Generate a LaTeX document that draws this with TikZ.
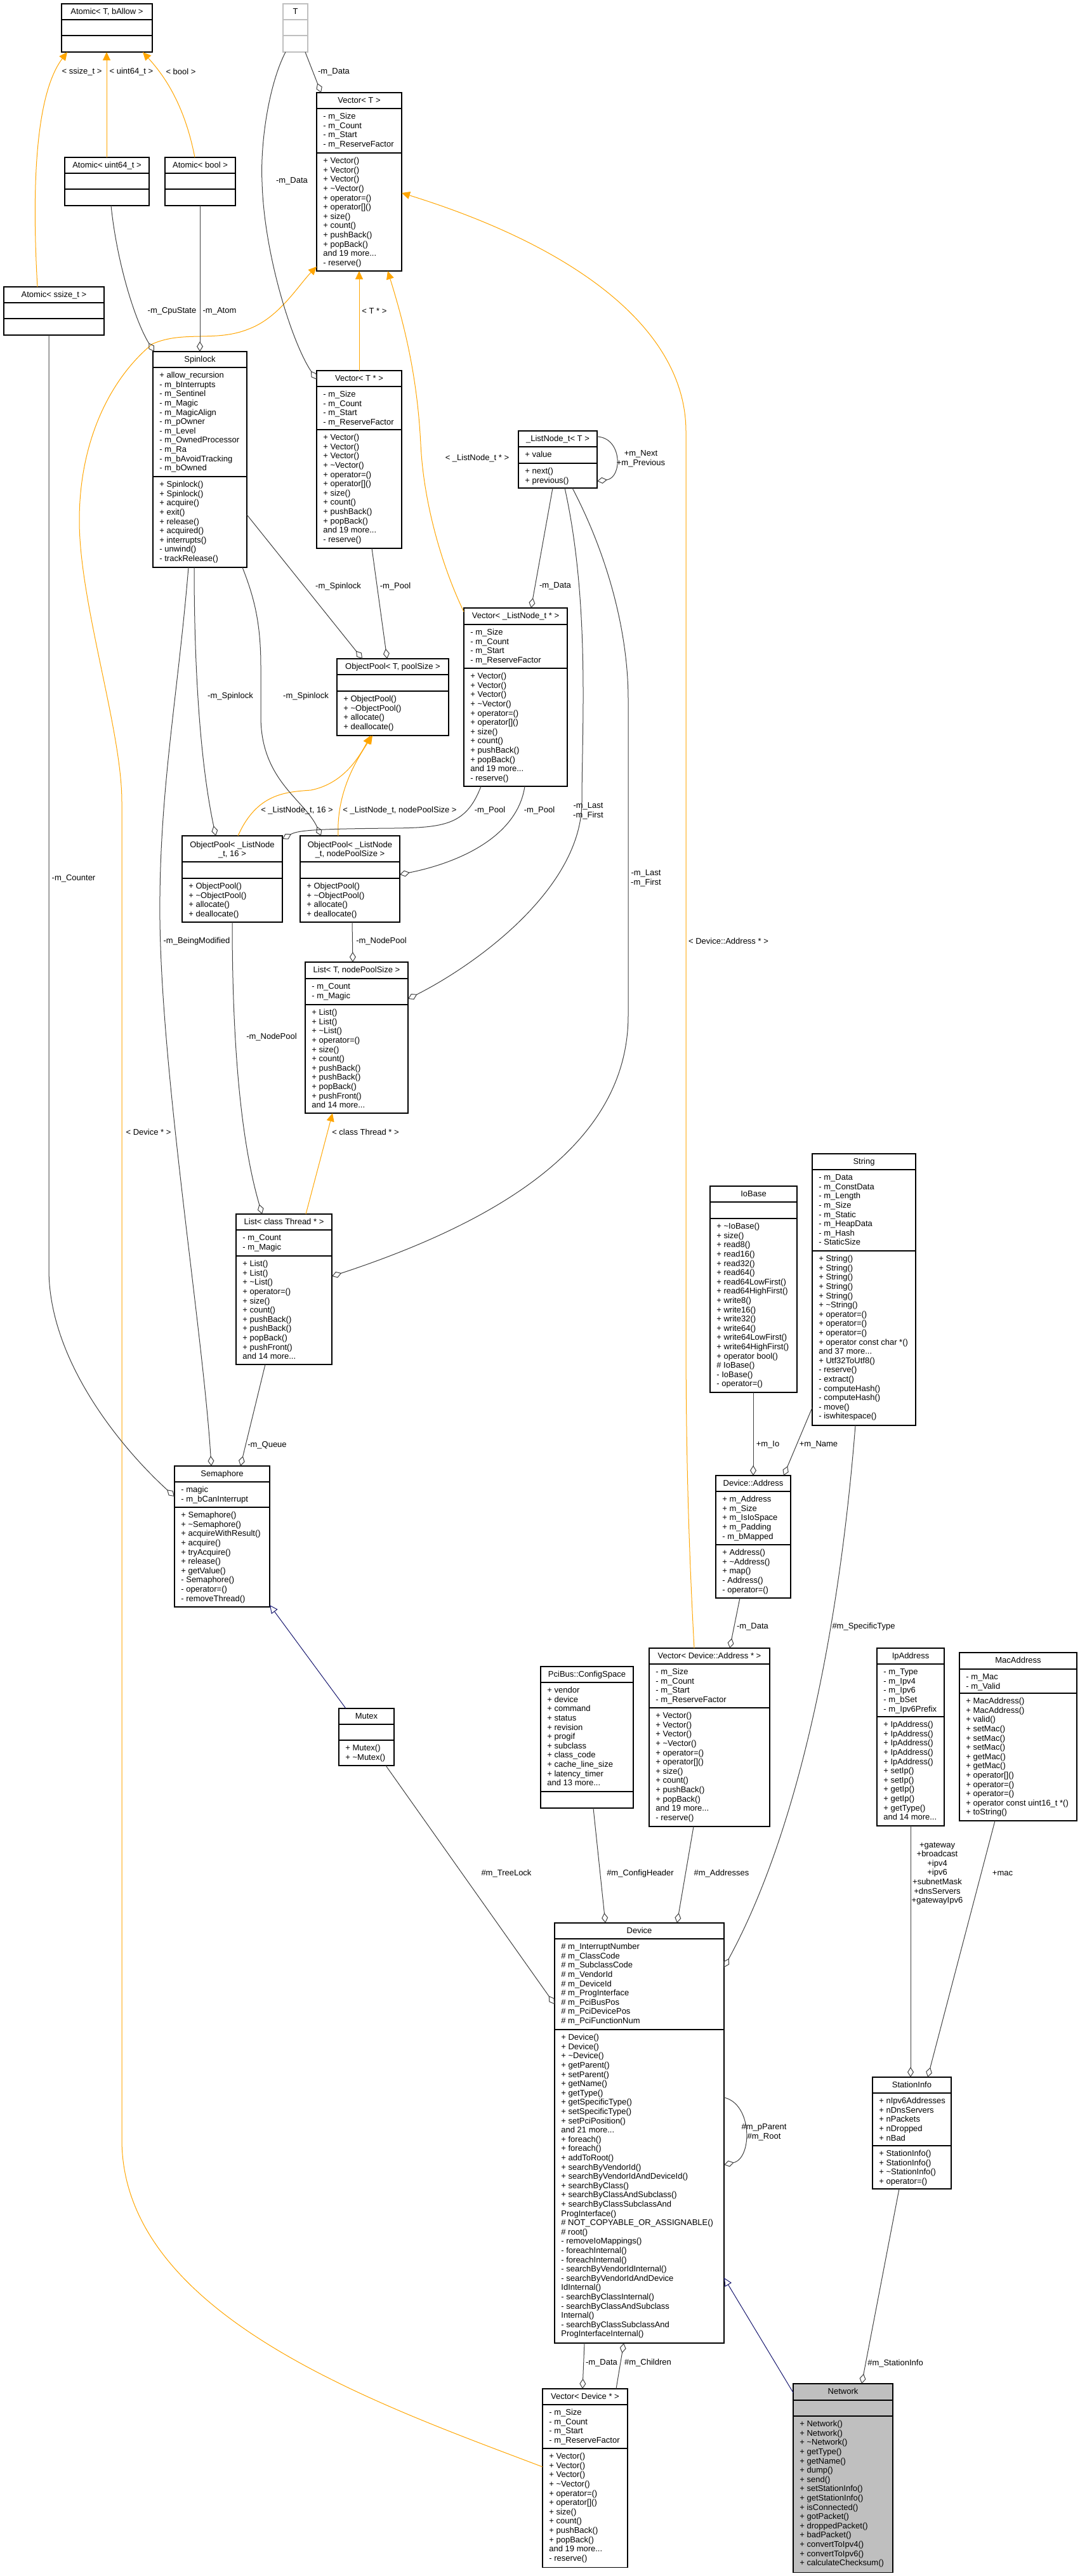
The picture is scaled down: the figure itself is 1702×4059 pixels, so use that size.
\documentclass[tikz,border=0pt]{standalone}
\usepackage{fontspec}
\setmainfont{Liberation Sans}
\usetikzlibrary{arrows.meta,calc}
\definecolor{egray}{HTML}{404040}
\definecolor{eorange}{HTML}{FFA500}
\definecolor{enavy}{HTML}{191970}
\definecolor{ngray}{HTML}{BFBFBF}
\newcommand\dxfont{\fontsize{6.5}{7.3}\selectfont}
\tikzset{
 clsbox/.style={draw=black, line width=0.55pt, inner sep=0pt, outer sep=0pt, fill=white},
 clsline/.style={draw=black, line width=0.55pt},
 ttl/.style={font=\dxfont, inner sep=0pt, align=center},
 mem/.style={font=\dxfont, inner sep=0pt, anchor=north west, align=left},
 lbl/.style={font=\dxfont, inner sep=0pt, align=center},
 agg/.style={draw=egray, line width=0.5pt, -{Diamond[open,length=8pt,width=5pt]}},
 tmpl/.style={draw=eorange, line width=0.5pt, -{Triangle[length=6.5pt,width=6pt,fill=eorange]}},
 inh/.style={draw=enavy, line width=0.5pt, -{Triangle[open,length=6.5pt,width=6pt]}},
}
% [style]{name}{x1}{y1}{x2}{y2}{sep1}{sep2}{title}
\newcommand\dxcls[9][]{%
 \node[clsbox,#1,minimum width={(#5-#3)*0.5pt},minimum height={(#6-#4)*0.5pt}] (#2) at ({(#3+#5)/2},{(#4+#6)/2}) {};
 \draw[clsline,#1] (#3,#7) -- (#5,#7) (#3,#8) -- (#5,#8);
 \node[ttl] (#2-t) at ({(#3+#5)/2},{(#4+#7)/2+1}) {\strut #9};
}
\newcommand\dxmem[4]{\node[mem] (#1) at (#2,#3) {\strut #4};}
\newcommand\vattr{- m\_Size\\- m\_Count\\- m\_Start\\- m\_ReserveFactor}
\newcommand\vmeth{+ Vector()\\+ Vector()\\+ Vector()\\+ \textasciitilde Vector()\\+ operator=()\\+ operator[]()\\+ size()\\+ count()\\+ pushBack()\\+ popBack()\\and 19 more...\\- reserve()}
\newcommand\lmeth{+ List()\\+ List()\\+ \textasciitilde List()\\+ operator=()\\+ size()\\+ count()\\+ pushBack()\\+ pushBack()\\+ popBack()\\+ pushFront()\\and 14 more...}
\newcommand\opmeth{+ ObjectPool()\\+ \textasciitilde ObjectPool()\\+ allocate()\\+ deallocate()}
\begin{document}
\begin{tikzpicture}[x=0.5pt,y=-0.5pt]
\useasboundingbox (0,0) rectangle (1702,4059);
% ---------------- classes
\dxcls{atomT}{97}{6}{240}{82}{31}{56}{Atomic< T, bAllow >}
\dxcls[draw=ngray]{tT}{446}{6}{485}{82}{31}{56}{T}
\dxcls{atomU}{102}{248}{235}{324}{273}{298}{Atomic< uint64\_t >}
\dxcls{atomB}{260}{248}{371}{324}{273}{298}{Atomic< bool >}
\dxcls{atomS}{6}{452}{164}{528}{477}{502}{Atomic< ssize\_t >}
\dxcls{vecT}{499}{146}{633}{427}{171}{241}{Vector< T >}
\dxmem{vecT-a}{509}{177}{\vattr}
\dxmem{vecT-m}{509}{247}{\vmeth}
\dxcls{spin}{241}{554}{389}{894}{579}{751}{Spinlock}
\dxmem{spin-a}{251}{585}{+ allow\_recursion\\- m\_bInterrupts\\- m\_Sentinel\\- m\_Magic\\- m\_MagicAlign\\- m\_pOwner\\- m\_Level\\- m\_OwnedProcessor\\- m\_Ra\\- m\_bAvoidTracking\\- m\_bOwned}
\dxmem{spin-m}{251}{757}{+ Spinlock()\\+ Spinlock()\\+ acquire()\\+ exit()\\+ release()\\+ acquired()\\+ interrupts()\\- unwind()\\- trackRelease()}
\dxcls{vecTp}{499}{584}{633}{864}{609}{677}{Vector< T * >}
\dxmem{vecTp-a}{509}{615}{\vattr}
\dxmem{vecTp-m}{509}{683}{\vmeth}
\dxcls{lnode}{817}{679}{941}{769}{704}{730}{\_ListNode\_t< T >}
\dxmem{lnode-a}{827}{710}{+ value}
\dxmem{lnode-m}{827}{736}{+ next()\\+ previous()}
\dxcls{opT}{531}{1038}{707}{1159}{1063}{1089}{ObjectPool< T, poolSize >}
\dxmem{opT-m}{541}{1095}{\opmeth}
\dxcls{vecLN}{731}{958}{894}{1239}{984}{1053}{Vector< \_ListNode\_t * >}
\dxmem{vecLN-a}{741}{990}{\vattr}
\dxmem{vecLN-m}{741}{1059}{\vmeth}
\dxcls{op16}{287}{1317}{445}{1453}{1358}{1384}{ObjectPool< \_ListNode\\\_t, 16 >}
\dxmem{op16-m}{297}{1390}{\opmeth}
\dxcls{opN}{473}{1317}{630}{1453}{1358}{1384}{ObjectPool< \_ListNode\\\_t, nodePoolSize >}
\dxmem{opN-m}{483}{1390}{\opmeth}
\dxcls{listN}{481}{1516}{643}{1754}{1542}{1583}{List< T, nodePoolSize >}
\dxmem{listN-a}{491}{1548}{- m\_Count\\- m\_Magic}
\dxmem{listN-m}{491}{1589}{\lmeth}
\dxcls{listTh}{372}{1913}{523}{2150}{1938}{1979}{List< class Thread * >}
\dxmem{listTh-a}{382}{1944}{- m\_Count\\- m\_Magic}
\dxmem{listTh-m}{382}{1985}{\lmeth}
\dxcls{sema}{275}{2310}{425}{2532}{2335}{2375}{Semaphore}
\dxmem{sema-a}{285}{2341}{- magic\\- m\_bCanInterrupt}
\dxmem{sema-m}{285}{2381}{+ Semaphore()\\+ \textasciitilde Semaphore()\\+ acquireWithResult()\\+ acquire()\\+ tryAcquire()\\+ release()\\+ getValue()\\- Semaphore()\\- operator=()\\- removeThread()}
\dxcls{mutex}{534}{2692}{621}{2782}{2717}{2742}{Mutex}
\dxmem{mutex-m}{544}{2748}{+ Mutex()\\+ \textasciitilde Mutex()}
\dxcls{iobase}{1119}{1869}{1256}{2194}{1894}{1920}{IoBase}
\dxmem{iobase-m}{1129}{1926}{+ \textasciitilde IoBase()\\+ size()\\+ read8()\\+ read16()\\+ read32()\\+ read64()\\+ read64LowFirst()\\+ read64HighFirst()\\+ write8()\\+ write16()\\+ write32()\\+ write64()\\+ write64LowFirst()\\+ write64HighFirst()\\+ operator bool()\\\# IoBase()\\- IoBase()\\- operator=()}
\dxcls{str}{1280}{1818}{1443}{2246}{1843}{1971}{String}
\dxmem{str-a}{1290}{1849}{- m\_Data\\- m\_ConstData\\- m\_Length\\- m\_Size\\- m\_Static\\- m\_HeapData\\- m\_Hash\\- StaticSize}
\dxmem{str-m}{1290}{1977}{+ String()\\+ String()\\+ String()\\+ String()\\+ String()\\+ \textasciitilde String()\\+ operator=()\\+ operator=()\\+ operator=()\\+ operator const char *()\\and 37 more...\\+ Utf32ToUtf8()\\- reserve()\\- extract()\\- computeHash()\\- computeHash()\\- move()\\- iswhitespace()}
\dxcls{devAddr}{1128}{2325}{1246}{2518}{2350}{2434}{Device::Address}
\dxmem{devAddr-a}{1138}{2356}{+ m\_Address\\+ m\_Size\\+ m\_IsIoSpace\\+ m\_Padding\\- m\_bMapped}
\dxmem{devAddr-m}{1138}{2440}{+ Address()\\+ \textasciitilde Address()\\+ map()\\- Address()\\- operator=()}
\dxcls{vecDA}{1023}{2597}{1213}{2878}{2622}{2691}{Vector< Device::Address * >}
\dxmem{vecDA-a}{1033}{2628}{\vattr}
\dxmem{vecDA-m}{1033}{2697}{\vmeth}
\dxcls{pci}{852}{2626}{998}{2849}{2651}{2823}{PciBus::ConfigSpace}
\dxmem{pci-a}{862}{2657}{+ vendor\\+ device\\+ command\\+ status\\+ revision\\+ progif\\+ subclass\\+ class\_code\\+ cache\_line\_size\\+ latency\_timer\\and 13 more...}
\dxcls{ipAddr}{1382}{2597}{1488}{2877}{2622}{2705}{IpAddress}
\dxmem{ipAddr-a}{1392}{2628}{- m\_Type\\- m\_Ipv4\\- m\_Ipv6\\- m\_bSet\\- m\_Ipv6Prefix}
\dxmem{ipAddr-m}{1392}{2711}{+ IpAddress()\\+ IpAddress()\\+ IpAddress()\\+ IpAddress()\\+ IpAddress()\\+ setIp()\\+ setIp()\\+ getIp()\\+ getIp()\\+ getType()\\and 14 more...}
\dxcls{mac}{1512}{2604}{1697}{2869}{2630}{2668}{MacAddress}
\dxmem{mac-a}{1522}{2636}{- m\_Mac\\- m\_Valid}
\dxmem{mac-m}{1522}{2674}{+ MacAddress()\\+ MacAddress()\\+ valid()\\+ setMac()\\+ setMac()\\+ setMac()\\+ getMac()\\+ getMac()\\+ operator[]()\\+ operator=()\\+ operator=()\\+ operator const uint16\_t *()\\+ toString()}
\dxcls{device}{874}{3030}{1141}{3692}{3055}{3198}{Device}
\dxmem{device-a}{884}{3061}{\# m\_InterruptNumber\\\# m\_ClassCode\\\# m\_SubclassCode\\\# m\_VendorId\\\# m\_DeviceId\\\# m\_ProgInterface\\\# m\_PciBusPos\\\# m\_PciDevicePos\\\# m\_PciFunctionNum}
\dxmem{device-m}{884}{3204}{+ Device()\\+ Device()\\+ \textasciitilde Device()\\+ getParent()\\+ setParent()\\+ getName()\\+ getType()\\+ getSpecificType()\\+ setSpecificType()\\+ setPciPosition()\\and 21 more...\\+ foreach()\\+ foreach()\\+ addToRoot()\\+ searchByVendorId()\\+ searchByVendorIdAndDeviceId()\\+ searchByClass()\\+ searchByClassAndSubclass()\\+ searchByClassSubclassAnd\\ProgInterface()\\\# NOT\_COPYABLE\_OR\_ASSIGNABLE()\\\# root()\\- removeIoMappings()\\- foreachInternal()\\- foreachInternal()\\- searchByVendorIdInternal()\\- searchByVendorIdAndDevice\\IdInternal()\\- searchByClassInternal()\\- searchByClassAndSubclass\\Internal()\\- searchByClassSubclassAnd\\ProgInterfaceInternal()}
\dxcls{station}{1375}{3273}{1499}{3449}{3298}{3381}{StationInfo}
\dxmem{station-a}{1385}{3304}{+ nIpv6Addresses\\+ nDnsServers\\+ nPackets\\+ nDropped\\+ nBad}
\dxmem{station-m}{1385}{3387}{+ StationInfo()\\+ StationInfo()\\+ \textasciitilde StationInfo()\\+ operator=()}
\dxcls{vecD}{855}{3764}{989}{4045}{3789}{3858}{Vector< Device * >}
\dxmem{vecD-a}{865}{3795}{\vattr}
\dxmem{vecD-m}{865}{3864}{\vmeth}
\dxcls[fill=ngray]{network}{1250}{3756}{1407}{4053}{3782}{3807}{Network}
\dxmem{network-m}{1260}{3813}{+ Network()\\+ Network()\\+ \textasciitilde Network()\\+ getType()\\+ getName()\\+ dump()\\+ send()\\+ setStationInfo()\\+ getStationInfo()\\+ isConnected()\\+ gotPacket()\\+ droppedPacket()\\+ badPacket()\\+ convertToIpv4()\\+ convertToIpv6()\\+ calculateChecksum()}
% ---------------- template edges (orange)
\draw[tmpl] ($(atomS.north west)+(53,0)$) .. controls (48,260) and (62,140) .. ($(atomT.south west)+(9,0)$);
\draw[tmpl] ($(atomU.north west)+(66,0)$) -- ($(atomT.south west)+(71,0)$);
\draw[tmpl] ($(atomB.north west)+(47,0)$) .. controls (290,160) and (255,115) .. ($(atomT.south west)+(128,0)$);
\draw[tmpl] ($(vecTp.north west)+(67,0)$) -- ($(vecT.south west)+(67,0)$);
\draw[tmpl] ($(vecLN.north west)+(0,6)$) .. controls (700,900) and (668,800) .. (663,700) .. controls (658,600) and (640,520) .. ($(vecT.south west)+(112,0)$);
\draw[tmpl] ($(vecDA.north west)+(71,0)$) .. controls (1086,2450) and (1081,2300) .. (1081,2100) -- (1081,680) .. controls (1081,520) and (910,390) .. ($(vecT.north east)+(0,158)$);
\draw[tmpl] ($(vecD.north west)+(0,123)$) .. controls (600,3790) and (192,3650) .. (192,3371) -- (192,1263) .. controls (192,1150) and (125,950) .. (125,820) .. controls (125,700) and (170,600) .. (240,542) .. controls (290,520) and (340,540) .. (393,518) .. controls (440,500) and (470,450) .. ($(vecT.south west)+(0,-7)$);
\draw[tmpl] ($(op16.north west)+(88,0)$) .. controls (405,1250) and (450,1248) .. (490,1245) .. controls (540,1235) and (565,1195) .. ($(opT.south west)+(53,0)$);
\draw[tmpl] ($(opN.north west)+(60,0)$) .. controls (530,1250) and (560,1200) .. ($(opT.south west)+(56,0)$);
\draw[tmpl] ($(listTh.north west)+(110,0)$) -- ($(listN.south west)+(43,0)$);
% ---------------- inheritance (blue)
\draw[inh] ($(mutex.north west)+(11,0)$) -- ($(sema.south east)+(0,-3)$);
\draw[inh] ($(network.north west)+(0,14)$) -- ($(device.north east)+(0,559)$);
% ---------------- aggregation edges
\draw[agg] ($(tT.south west)+(35,0)$) -- ($(vecT.north west)+(7,0)$);
\draw[agg] ($(tT.south west)+(4,0)$) .. controls (425,130) and (410,220) .. (413,287) .. controls (416,400) and (460,540) .. ($(vecTp.north west)+(0,14)$);
\draw[agg] ($(atomU.south west)+(73,0)$) .. controls (185,420) and (215,510) .. ($(spin.north west)+(2,0)$);
\draw[agg] ($(atomB.south west)+(55,0)$) -- ($(spin.north west)+(74,0)$);
\draw[agg] ($(lnode.south west)+(54,0)$) -- ($(vecLN.north west)+(106,0)$);
\draw[agg] ($(lnode.south west)+(73,0)$) .. controls (930,950) and (917,1150) .. (917,1263) .. controls (917,1400) and (750,1520) .. ($(listN.north east)+(0,58)$);
\draw[agg] ($(lnode.south west)+(85,0)$) .. controls (960,880) and (990,1000) .. (990,1102) -- (990,1600) .. controls (990,1780) and (830,1910) .. ($(listTh.north east)+(0,98)$);
\draw[agg] ($(lnode.north east)+(0,9)$) .. controls +(40,2) and +(40,-5) .. ($(lnode.north east)+(0,79)$);
\draw[agg] ($(spin.north east)+(0,257)$) -- ($(opT.north west)+(40,0)$);
\draw[agg] ($(vecTp.south west)+(87,0)$) -- ($(opT.north west)+(79,0)$);
\draw[agg] ($(spin.south west)+(65,0)$) .. controls (306,1050) and (315,1200) .. ($(op16.north west)+(53,0)$);
\draw[agg] ($(spin.south west)+(141,0)$) .. controls (400,940) and (411,980) .. (411,1050) -- (411,1129) .. controls (411,1230) and (480,1260) .. ($(opN.north west)+(33,0)$);
\draw[agg] ($(spin.south west)+(56,0)$) .. controls (280,1100) and (250,1250) .. (252,1450) .. controls (255,1700) and (320,2100) .. ($(sema.north west)+(58,0)$);
\draw[agg] ($(atomS.south west)+(71,0)$) -- (77,2000) .. controls (77,2150) and (200,2290) .. ($(sema.north west)+(0,48)$);
\draw[agg] ($(op16.south west)+(79,0)$) .. controls (366,1650) and (380,1800) .. ($(listTh.north west)+(41,0)$);
\draw[agg] ($(opN.south west)+(82,0)$) -- ($(listN.north west)+(75,0)$);
\draw[agg] ($(vecLN.south west)+(27,0)$) .. controls (735,1300) and (700,1304) .. (620,1305) .. controls (500,1306) and (470,1308) .. ($(op16.north east)+(0,5)$);
\draw[agg] ($(vecLN.south west)+(96,0)$) .. controls (815,1320) and (720,1360) .. ($(opN.north east)+(0,61)$);
\draw[agg] ($(listTh.south west)+(46,0)$) -- ($(sema.north west)+(104,0)$);
\draw[agg] ($(mutex.south west)+(74,0)$) -- ($(device.north west)+(0,128)$);
\draw[agg] ($(pci.south west)+(83,0)$) -- ($(device.north west)+(80,0)$);
\draw[agg] ($(vecDA.south west)+(70,0)$) -- ($(device.north west)+(193,0)$);
\draw[agg] ($(str.south west)+(68,0)$) .. controls (1320,2600) and (1250,2900) .. ($(device.north east)+(0,70)$);
\draw[agg] ($(iobase.south west)+(68,0)$) -- ($(devAddr.north west)+(59,0)$);
\draw[agg] ($(str.north west)+(0,400)$) -- ($(devAddr.north west)+(107,0)$);
\draw[agg] ($(devAddr.south west)+(38,0)$) -- ($(vecDA.north west)+(127,0)$);
\draw[agg] ($(ipAddr.south west)+(53,0)$) -- ($(station.north west)+(60,0)$);
\draw[agg] ($(mac.south west)+(56,0)$) -- ($(station.north west)+(87,0)$);
\draw[agg] ($(station.south west)+(42,0)$) -- ($(network.north west)+(108,0)$);
\draw[agg] ($(device.north east)+(0,275)$) .. controls +(45,10) and +(45,-10) .. ($(device.north east)+(0,381)$);
\draw[agg] ($(device.south west)+(47,0)$) -- ($(vecD.north west)+(63,0)$);
\draw[agg] ($(vecD.north west)+(116,0)$) -- ($(device.south west)+(109,0)$);
% ---------------- labels
\node[lbl] (l1) at (129,113) {< ssize\_t >};
\node[lbl] (l2) at (207,113) {< uint64\_t >};
\node[lbl] (l3) at (285,113) {< bool >};
\node[lbl] (l4) at (526,113) {-m\_Data};
\node[lbl] (l5) at (460,285) {-m\_Data};
\node[lbl] (l6) at (271,490) {-m\_CpuState};
\node[lbl] (l7) at (346,490) {-m\_Atom};
\node[lbl] (l8) at (590,490) {< T * >};
\node[lbl] (l9) at (752,722) {< \_ListNode\_t * >};
\node[lbl] (l10) at (1010,723) {+m\_Next\\+m\_Previous};
\node[lbl] (l11) at (533,924) {-m\_Spinlock};
\node[lbl] (l12) at (623,924) {-m\_Pool};
\node[lbl] (l13) at (363,1097) {-m\_Spinlock};
\node[lbl] (l14) at (482,1097) {-m\_Spinlock};
\node[lbl] (l15) at (468,1277) {< \_ListNode\_t, 16 >};
\node[lbl] (l16) at (630,1277) {< \_ListNode\_t, nodePoolSize >};
\node[lbl] (l17) at (772,1277) {-m\_Pool};
\node[lbl] (l18) at (850,1277) {-m\_Pool};
\node[lbl] (l19) at (310,1483) {-m\_BeingModified};
\node[lbl] (l20) at (601,1483) {-m\_NodePool};
\node[lbl] (l21) at (428,1634) {-m\_NodePool};
\node[lbl] (l22) at (576,1784) {< class Thread * >};
\node[lbl] (l23) at (421,2277) {-m\_Queue};
\node[lbl] (l24) at (1210,2276) {+m\_Io};
\node[lbl] (l25) at (1290,2276) {+m\_Name};
\node[lbl] (l26) at (1186,2563) {-m\_Data};
\node[lbl] (l27) at (1361,2563) {\#m\_SpecificType};
\node[lbl] (l28) at (798,2952) {\#m\_TreeLock};
\node[lbl] (l29) at (1009,2952) {\#m\_ConfigHeader};
\node[lbl] (l30) at (1137,2952) {\#m\_Addresses};
\node[lbl] (l31) at (1477,2952) {+gateway\\+broadcast\\+ipv4\\+ipv6\\+subnetMask\\+dnsServers\\+gatewayIpv6};
\node[lbl] (l32) at (1580,2952) {+mac};
\node[lbl] (l33) at (1204,3360) {\#m\_pParent\\\#m\_Root};
\node[lbl] (l34) at (948,3723) {-m\_Data};
\node[lbl] (l35) at (1021,3723) {\#m\_Children};
\node[lbl] (l36) at (1411,3724) {\#m\_StationInfo};
\node[lbl] (l37) at (116,1384) {-m\_Counter};
\node[lbl] (l38) at (234,1784) {< Device * >};
\node[lbl] (l39) at (1148,1483) {< Device::Address * >};
\node[lbl] (l40) at (875,923) {-m\_Data};
\node[lbl] (l41) at (927,1278) {-m\_Last\\-m\_First};
\node[lbl] (l42) at (1018,1384) {-m\_Last\\-m\_First};
\end{tikzpicture}
\end{document}
